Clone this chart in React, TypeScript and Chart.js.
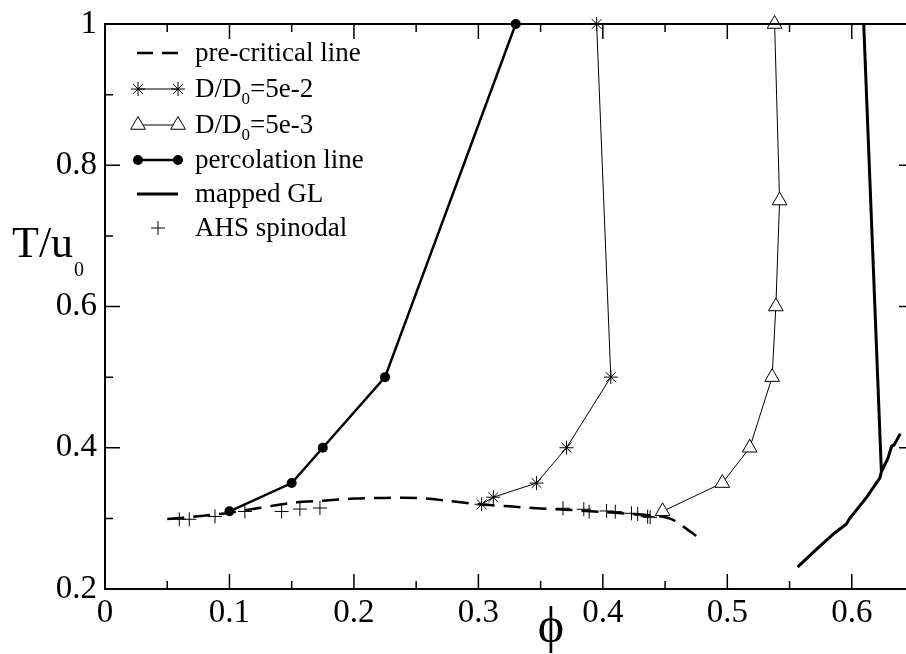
import React, { useEffect, useRef } from "react";
import { Chart, registerables } from "chart.js";
Chart.register(...registerables);

// ---------- data ----------
const xTicks = [0, 0.1, 0.2, 0.3, 0.4, 0.5, 0.6];
const xTickLabels = ["0", "0.1", "0.2", "0.3", "0.4", "0.5", "0.6"];
const yTicks = [0.2, 0.4, 0.6, 0.8, 1.0];
const yTickLabels = ["0.2", "0.4", "0.6", "0.8", "1"];

const precriticalPhi = [0.05, 0.075, 0.1, 0.125, 0.15, 0.175, 0.2, 0.225, 0.25, 0.275, 0.3, 0.325, 0.35, 0.375, 0.4, 0.425, 0.445, 0.455, 0.465, 0.475];
const precriticalT = [0.299, 0.303, 0.308, 0.315, 0.322, 0.325, 0.328, 0.329, 0.329, 0.325, 0.320, 0.317, 0.314, 0.312, 0.309, 0.306, 0.303, 0.299, 0.288, 0.275];

const d52Phi = [0.3026, 0.312, 0.3467, 0.3708, 0.4064, 0.395];
const d52T = [0.32, 0.33, 0.35, 0.40, 0.50, 1.0];

const d53Phi = [0.448, 0.496, 0.518, 0.536, 0.539, 0.542, 0.538];
const d53T = [0.31, 0.35, 0.40, 0.50, 0.60, 0.75, 1.0];

const percPhi = [0.1, 0.15, 0.175, 0.225, 0.33];
const percT = [0.31, 0.35, 0.40, 0.50, 1.0];

const glPhi = [0.6096, 0.6238, 0.6238, 0.5564, 0.574, 0.586, 0.5957, 0.598, 0.612, 0.6225, 0.6238, 0.629, 0.632, 0.634, 0.639];
const glT: (number | null)[] = [1.0, 0.366, null, 0.231, 0.26, 0.279, 0.292, 0.299, 0.330, 0.357, 0.366, 0.385, 0.402, 0.404, 0.42];

const ahsPhi = [0.0597, 0.0677, 0.0884, 0.1124, 0.1419, 0.1566, 0.1727, 0.368, 0.3847, 0.389, 0.403, 0.410, 0.423, 0.428, 0.436, 0.438];
const ahsT = [0.2987, 0.2987, 0.3027, 0.3098, 0.3098, 0.3132, 0.3147, 0.3143, 0.3129, 0.3095, 0.3105, 0.3095, 0.3072, 0.3062, 0.3024, 0.3015];

const legendLabels = ["pre-critical line", "D/D0=5e-2", "D/D0=5e-3", "percolation line", "mapped GL", "AHS spinodal"];

// ---------- helpers ----------
const SERIF = '"Liberation Serif", "DejaVu Serif", serif';
const pts = (xs: number[], ys: (number | null)[]) => xs.map((x, i) => ({ x, y: ys[i] }));

function drawMarker(ctx: CanvasRenderingContext2D, kind: string, x: number, y: number) {
  ctx.save();
  ctx.strokeStyle = "#000";
  ctx.lineWidth = 1;
  ctx.setLineDash([]);
  ctx.beginPath();
  if (kind === "star") {
    const r = 7;
    for (let k = 0; k < 4; k++) {
      const a = (k * Math.PI) / 4;
      ctx.moveTo(x - Math.sin(a) * r, y - Math.cos(a) * r);
      ctx.lineTo(x + Math.sin(a) * r, y + Math.cos(a) * r);
    }
    ctx.stroke();
  } else if (kind === "triangle") {
    const r = 8.5;
    for (let k = 0; k < 3; k++) {
      const a = (k * 2 * Math.PI) / 3;
      const px = x + Math.sin(a) * r, py = y - Math.cos(a) * r;
      if (k === 0) ctx.moveTo(px, py); else ctx.lineTo(px, py);
    }
    ctx.closePath();
    ctx.fillStyle = "#fff";
    ctx.fill();
    ctx.stroke();
  } else if (kind === "circle") {
    ctx.arc(x, y, 5, 0, Math.PI * 2);
    ctx.fillStyle = "#000";
    ctx.fill();
  } else if (kind === "cross") {
    const r = 7;
    ctx.moveTo(x - r, y); ctx.lineTo(x + r, y);
    ctx.moveTo(x, y - r); ctx.lineTo(x, y + r);
    ctx.stroke();
  }
  ctx.restore();
}

function drawSubText(ctx: CanvasRenderingContext2D, text: string, x: number, y: number, size: number, subSize: number, subDrop: number) {
  const parts: { t: string; sub: boolean }[] = [];
  const m = text.match(/^(.*D)0(.*)$/);
  if (m) {
    parts.push({ t: m[1], sub: false }, { t: "0", sub: true }, { t: m[2], sub: false });
  } else parts.push({ t: text, sub: false });
  let cx = x;
  for (const p of parts) {
    ctx.font = `${p.sub ? subSize : size}px ${SERIF}`;
    ctx.fillText(p.t, cx, p.sub ? y + subDrop : y);
    cx += ctx.measureText(p.t).width;
  }
}

const framePlugin = {
  id: "frame",
  afterDraw(chart: any) {
    const { ctx, chartArea: a, scales } = chart;
    const xs = scales.x, ys = scales.y;
    ctx.save();
    ctx.strokeStyle = "#000";
    // ticks
    ctx.lineWidth = 1.5;
    ctx.beginPath();
    for (let i = 0; i <= 13; i++) {
      const v = i * 0.05;
      const px = xs.getPixelForValue(v);
      const len = i % 2 === 0 ? 15 : 8;
      ctx.moveTo(px, a.bottom); ctx.lineTo(px, a.bottom - len);
      ctx.moveTo(px, a.top); ctx.lineTo(px, a.top + len);
    }
    for (let i = 2; i <= 10; i++) {
      const v = i * 0.1;
      const py = ys.getPixelForValue(v);
      const len = i % 2 === 0 ? 15 : 8;
      ctx.moveTo(a.left, py); ctx.lineTo(a.left + len, py);
      ctx.moveTo(a.right, py); ctx.lineTo(a.right - len, py);
    }
    ctx.stroke();
    // border
    ctx.lineWidth = 2;
    ctx.strokeRect(a.left, a.top, a.right - a.left, a.bottom - a.top);

    // axis titles
    ctx.fillStyle = "#000";
    ctx.textAlign = "left";
    ctx.textBaseline = "alphabetic";
    ctx.font = `44px ${SERIF}`;
    ctx.fillText("T/u", 12, 257);
    const w = ctx.measureText("T/u").width;
    ctx.font = `20px ${SERIF}`;
    ctx.fillText("0", 12 + w + 1, 276);
    ctx.font = `50px ${SERIF}`;
    ctx.textAlign = "center";
    ctx.fillText("\u03D5", 551, 642);

    // legend
    const x0 = 138, x1 = 178, tx = 195;
    const rows = [53, 89, 125, 160, 194, 228];
    ctx.textAlign = "left";
    rows.forEach((ry, i) => {
      ctx.save();
      ctx.strokeStyle = "#000";
      if (i === 0) {
        ctx.lineWidth = 2.5;
        ctx.setLineDash([16, 9]);
        ctx.beginPath(); ctx.moveTo(x0 - 1, ry); ctx.lineTo(x1, ry); ctx.stroke();
      } else if (i === 1 || i === 2) {
        ctx.lineWidth = 1;
        ctx.beginPath(); ctx.moveTo(x0, ry); ctx.lineTo(x1, ry); ctx.stroke();
        drawMarker(ctx, i === 1 ? "star" : "triangle", x0, ry);
        drawMarker(ctx, i === 1 ? "star" : "triangle", x1, ry);
      } else if (i === 3) {
        ctx.lineWidth = 2.5;
        ctx.beginPath(); ctx.moveTo(x0, ry); ctx.lineTo(x1, ry); ctx.stroke();
        drawMarker(ctx, "circle", x0, ry);
        drawMarker(ctx, "circle", x1, ry);
      } else if (i === 4) {
        ctx.lineWidth = 3;
        ctx.beginPath(); ctx.moveTo(x0 - 1, ry); ctx.lineTo(x1, ry); ctx.stroke();
      } else {
        drawMarker(ctx, "cross", (x0 + x1) / 2, ry);
      }
      ctx.restore();
      ctx.fillStyle = "#000";
      drawSubText(ctx, legendLabels[i], tx, ry + 8, 27, 17, 7);
    });
    ctx.restore();
  },
};

export default function App() {
  const ref = useRef<HTMLCanvasElement | null>(null);
  useEffect(() => {
    document.body.style.margin = "0";
    if (!ref.current) return;
    const tickFont = { family: SERIF, size: 33 };
    const chart = new Chart(ref.current, {
      type: "scatter",
      data: {
        datasets: [
          {
            data: pts(precriticalPhi, precriticalT),
            showLine: true,
            borderColor: "#000",
            borderWidth: 2.5,
            borderDash: [17, 9],
            pointRadius: 0,
            tension: 0.3,
            clip: false,
          },
          {
            data: pts(d52Phi, d52T),
            showLine: true,
            borderColor: "#000",
            borderWidth: 1,
            pointStyle: "star",
            pointRadius: 7,
            pointBorderWidth: 1,
            pointBorderColor: "#000",
            clip: false,
          },
          {
            data: pts(d53Phi, d53T),
            showLine: true,
            borderColor: "#000",
            borderWidth: 1,
            pointStyle: "triangle",
            pointRadius: 8.5,
            pointBorderWidth: 1,
            pointBorderColor: "#000",
            pointBackgroundColor: "#fff",
            clip: false,
          },
          {
            data: pts(percPhi, percT),
            showLine: true,
            borderColor: "#000",
            borderWidth: 2.5,
            pointStyle: "circle",
            pointRadius: 5,
            pointBorderWidth: 0,
            pointBackgroundColor: "#000",
            clip: false,
          },
          {
            data: pts(glPhi, glT),
            showLine: true,
            spanGaps: false,
            borderColor: "#000",
            borderWidth: 3,
            pointRadius: 0,
            clip: false,
          },
          {
            data: pts(ahsPhi, ahsT),
            showLine: false,
            pointStyle: "cross",
            pointRadius: 7,
            pointBorderWidth: 1,
            pointBorderColor: "#000",
            clip: false,
          },
        ] as any,
      },
      options: {
        animation: false,
        responsive: false,
        events: [],
        layout: { autoPadding: false, padding: { top: 24, right: 2, bottom: 0, left: 0 } },
        plugins: { legend: { display: false }, tooltip: { enabled: false } },
        scales: {
          x: {
            type: "linear",
            min: 0,
            max: 0.65,
            grid: { display: false, drawTicks: false },
            border: { display: false },
            afterBuildTicks: (s: any) => { s.ticks = xTicks.map((v) => ({ value: v })); },
            afterFit: (s: any) => { s.height = 65; s.paddingLeft = 0; s.paddingRight = 0; },
            ticks: {
              color: "#000",
              font: tickFont,
              padding: 5,
              maxRotation: 0,
              autoSkip: false,
              callback: (v: any) => { const i = xTicks.findIndex((t) => Math.abs(t - v) < 1e-6); return i >= 0 ? xTickLabels[i] : ""; },
            },
          },
          y: {
            type: "linear",
            min: 0.2,
            max: 1.0,
            grid: { display: false, drawTicks: false },
            border: { display: false },
            afterBuildTicks: (s: any) => { s.ticks = yTicks.map((v) => ({ value: v })); },
            afterFit: (s: any) => { s.width = 105; s.paddingTop = 0; s.paddingBottom = 0; },
            ticks: {
              color: "#000",
              font: tickFont,
              padding: 8,
              autoSkip: false,
              callback: (v: any) => { const i = yTicks.findIndex((t) => Math.abs(t - v) < 1e-6); return i >= 0 ? yTickLabels[i] : ""; },
            },
          },
        },
      } as any,
      plugins: [framePlugin],
    });
    return () => chart.destroy();
  }, []);
  return (
    <div style={{ width: 906, height: 654, overflow: "hidden", background: "#fff", position: "relative" }}>
      <canvas ref={ref} width={916} height={654} style={{ width: 916, height: 654, display: "block" }} />
    </div>
  );
}
